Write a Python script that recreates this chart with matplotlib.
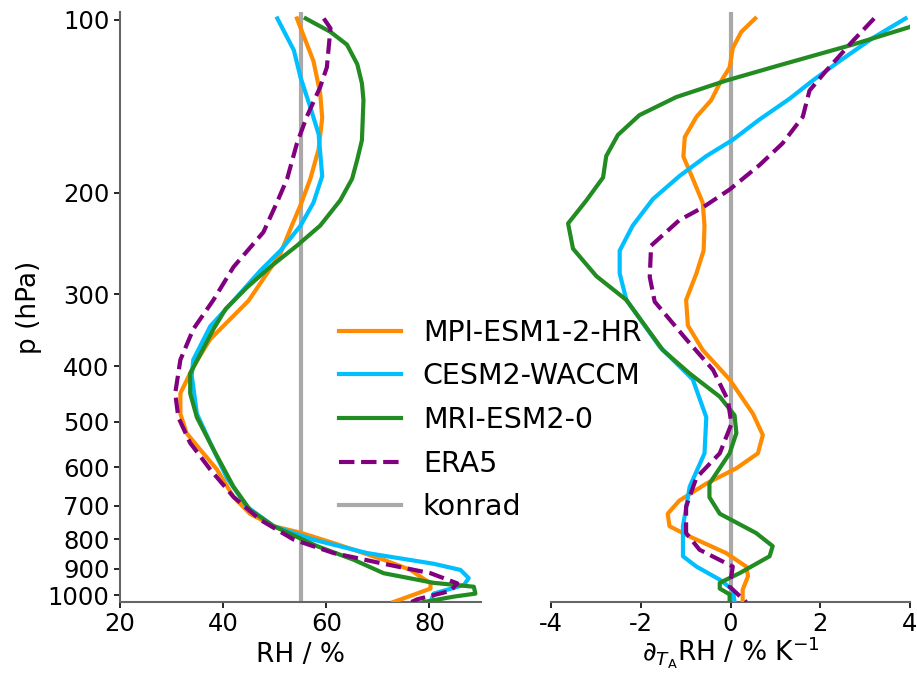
import matplotlib
matplotlib.use("Agg")
import matplotlib.pyplot as plt
import numpy as np

plt.rcParams['axes.unicode_minus'] = False
plt.rcParams['font.family'] = ['DejaVu Sans']

# ---------------- data ----------------
# Left panel: relative humidity (%) vs pressure (hPa)
mpi_rh_p = [99.5, 118, 134, 148, 168, 189, 210, 228, 255, 276, 308, 359, 401, 446, 484,
            523, 558, 605, 675, 722, 759, 779, 812, 868, 904, 954, 974, 998, 1028]
mpi_rh = [54.3, 57.5, 58.8, 59.2, 58.5, 56.9, 55.0, 53.3, 51.1, 48.5, 44.9, 37.5, 34.2, 31.7, 31.7,
          32.9, 35.5, 38.8, 42.0, 45.2, 49.8, 55.0, 61.4, 71.1, 76.3, 80.2, 80.2, 77.0, 73.0]

cesm_rh_p = [99.5, 113, 126, 142, 158, 187, 208, 228, 252, 273, 308, 341, 390, 415, 484,
             544, 625, 702, 759, 801, 845, 882, 904, 934, 960, 994, 1028]
cesm_rh = [50.5, 53.7, 55.0, 56.9, 58.5, 59.2, 57.5, 55.0, 51.1, 47.2, 42.0, 37.5, 34.2, 33.9, 34.9,
           37.5, 40.7, 44.6, 49.8, 57.5, 67.9, 80.8, 86.0, 87.6, 86.7, 80.8, 80.2]

mri_rh_p = [99.5, 105, 110.5, 119.5, 129, 138, 162, 175, 189, 206, 228, 247, 269, 292, 318,
            345, 412, 446, 491, 558, 648, 711, 759, 822, 868, 916, 952, 967, 994, 1006, 1028]
mri_rh = [56.0, 60.8, 64.0, 66.0, 66.9, 67.2, 66.9, 66.0, 65.0, 62.7, 58.8, 54.3, 49.1, 44.6, 40.5,
          38.1, 33.6, 33.6, 34.9, 38.1, 42.0, 45.2, 49.8, 58.2, 65.3, 71.1, 80.8, 88.6, 88.9, 84.7, 78.9]

era5_rh_p = [99.5, 103.5, 121, 131, 147.5, 164, 189, 208, 234, 269, 307, 345, 390, 446, 491,
             544, 605, 675, 740, 801, 845, 882, 916, 954, 983, 1017, 1028]
era5_rh = [59.5, 60.8, 60.1, 58.8, 56.2, 54.3, 52.4, 50.4, 47.8, 42.0, 38.1, 34.2, 31.7, 30.7, 31.3,
           33.6, 37.5, 42.0, 47.2, 53.7, 61.4, 71.1, 80.2, 85.4, 84.1, 77.6, 76.5]

konrad_rh = 55.0

# Right panel: RH change per K of warming (% / K) vs pressure (hPa)
mpi_d_p = [99.5, 105, 112, 121, 129, 138, 147.5, 160, 173, 189, 208, 228, 252, 276, 307, 340,
           375, 422, 484, 527, 567, 602, 640, 685, 722, 759, 791, 845, 892, 927, 979, 1028]
mpi_d = [0.55, 0.24, 0.05, -0.02, -0.24, -0.43, -0.76, -1.02, -1.05, -0.84, -0.62, -0.58, -0.60,
         -0.76, -0.99, -0.95, -0.62, -0.02, 0.50, 0.72, 0.61, 0.13, -0.54, -1.14, -1.40, -1.36,
         -0.91, -0.10, 0.35, 0.39, 0.27, 0.27]

cesm_d_p = [99.5, 107.6, 118, 127.6, 137.3, 149, 161.7, 172.6, 187, 205, 228, 252, 276, 307, 370,
            422, 491, 567, 648, 759, 856, 892, 940, 979, 1028]
cesm_d = [3.9, 3.17, 2.43, 1.83, 1.31, 0.65, 0.05, -0.54, -1.14, -1.73, -2.18, -2.47, -2.47, -2.32,
          -1.58, -0.84, -0.54, -0.58, -0.91, -1.06, -1.06, -0.76, -0.24, 0.05, 0.09]

mri_d_p = [99.5, 103, 110.5, 120, 127.6, 136.3, 146.5, 158.6, 172.6, 188, 206, 226, 250, 279, 307,
           375, 412, 452, 487, 523, 567, 640, 676, 722, 780, 822, 856, 916, 952, 974, 997, 1028]
mri_d = [4.3, 3.99, 2.72, 1.09, -0.10, -1.21, -2.03, -2.51, -2.77, -2.84, -3.21, -3.62, -3.51, -2.99,
         -2.32, -1.51, -0.91, -0.24, 0.09, 0.13, -0.02, -0.47, -0.47, -0.24, 0.57, 0.94, 0.87, 0.20,
         -0.24, -0.24, -0.02, -0.02]

era5_d_p = [99.5, 109, 122.7, 132.8, 147.5, 164, 178.8, 197.3, 212, 223, 247, 280, 309, 359, 406,
            458, 504, 567, 625, 702, 780, 834, 892, 967, 1028]
era5_d = [3.2, 2.72, 2.13, 1.76, 1.61, 1.16, 0.65, -0.02, -0.62, -1.14, -1.77, -1.80, -1.69, -0.99,
          -0.39, -0.06, 0.02, -0.24, -0.76, -0.99, -0.99, -0.69, 0.05, -0.02, 0.35]

konrad_d = 0.0

labels = ["MPI-ESM1-2-HR", "CESM2-WACCM", "MRI-ESM2-0", "ERA5", "konrad"]
colors = ["darkorange", "deepskyblue", "forestgreen", "purple", "darkgrey"]

yticks = [100, 200, 300, 400, 500, 600, 700, 800, 900, 1000]
left_xticks = [20, 40, 60, 80]
right_xticks = [-4, -2, 0, 2, 4]

# ---------------- plot ----------------
fig = plt.figure(figsize=(9.17, 6.75), dpi=100)
axL = fig.add_axes([0.1309, 0.1081, 0.3937, 0.874])
axR = fig.add_axes([0.6009, 0.1081, 0.3915, 0.874])

lw = 3.0
TICK = 17.5
LAB = 19

series_left = [(mpi_rh, mpi_rh_p), (cesm_rh, cesm_rh_p), (mri_rh, mri_rh_p), (era5_rh, era5_rh_p)]
series_right = [(mpi_d, mpi_d_p), (cesm_d, cesm_d_p), (mri_d, mri_d_p), (era5_d, era5_d_p)]

handles = []
for i, ((x, p), (xr, pr)) in enumerate(zip(series_left, series_right)):
    ls = '--' if labels[i] == 'ERA5' else '-'
    h, = axL.plot(x, p, color=colors[i], lw=lw, ls=ls, label=labels[i], zorder=3)
    axR.plot(xr, pr, color=colors[i], lw=lw, ls=ls, zorder=3)
    handles.append(h)
hk = axL.axvline(konrad_rh, color=colors[4], lw=lw, label=labels[4], zorder=2)
axR.axvline(konrad_d, color=colors[4], lw=lw, zorder=2)
handles.append(hk)

for ax in (axL, axR):
    ax.set_yscale('log')
    ax.set_ylim(1028, 97)
    ax.spines['top'].set_visible(False)
    ax.spines['right'].set_visible(False)
    for s in ax.spines.values():
        s.set_color('#666666')
        s.set_linewidth(1.5)
    ax.tick_params(axis='both', labelsize=TICK, color='black', length=4, width=1.2)
    ax.minorticks_off()

axL.set_yticks(yticks)
axL.set_yticklabels([str(t) for t in yticks])
axL.yaxis.set_minor_locator(matplotlib.ticker.NullLocator())
axL.set_xlim(20, 90)
axL.set_xticks(left_xticks)
axL.set_xlabel('RH / %', fontsize=LAB)
axL.set_ylabel('p (hPa)', fontsize=LAB)

axR.set_xlim(-4, 4)
axR.set_xticks(right_xticks)
axR.set_xticklabels([str(t) for t in right_xticks])
axR.spines['left'].set_visible(False)
axR.set_yticks([])
axR.yaxis.set_minor_locator(matplotlib.ticker.NullLocator())
axR.set_xlabel(r'$\partial_{T_\mathrm{A}}$RH / % K$^{-1}$', fontsize=LAB, labelpad=-1)

fig.legend(handles=handles, loc='center left', bbox_to_anchor=(0.357, 0.378),
           frameon=False, fontsize=20.5, handlelength=2.2, labelspacing=0.55,
           handletextpad=0.75, borderaxespad=0)

fig.savefig('out.png', dpi=100)
